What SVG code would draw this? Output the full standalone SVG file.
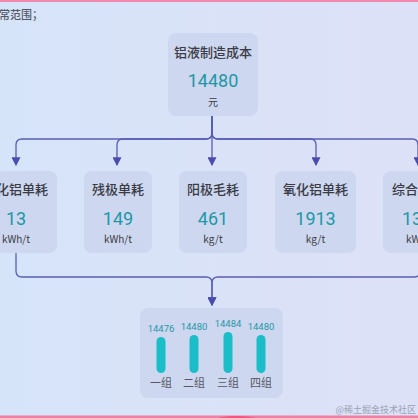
<svg xmlns="http://www.w3.org/2000/svg" width="418" height="418" viewBox="0 0 418 418">
<defs>
<linearGradient id="bg" x1="0" y1="0" x2="1" y2="0">
<stop offset="0" stop-color="#d6e4f9"/>
<stop offset="1" stop-color="#dde1f7"/>
</linearGradient>
<marker id="arrd" markerUnits="userSpaceOnUse" markerWidth="9" markerHeight="9" refX="7" refY="4" viewBox="0 0 8 8" orient="auto">
<path d="M0,0 L8,4 L0,8 Z" fill="#4b4cad"/>
</marker>
</defs>
<style>
.box{fill:#cdd7ef;}
.t{font-family:"Noto Sans CJK SC","Noto Sans",sans-serif;font-size:13px;font-weight:500;fill:#3a3b46;text-anchor:middle;}
.v{font-family:Roboto,"Liberation Sans",sans-serif;font-size:18px;font-weight:400;fill:#1e97a6;text-anchor:middle;}
.u{font-family:"Noto Sans CJK SC",Roboto,sans-serif;font-size:10px;fill:#3a3b46;text-anchor:middle;}
.n{font-family:Roboto,"Liberation Sans",sans-serif;font-size:9.5px;fill:#2597a8;text-anchor:middle;}
.g{font-family:"Noto Sans CJK SC",sans-serif;font-size:11px;fill:#555866;text-anchor:middle;}
.bar{fill:#1bbdc8;}
.e{fill:none;stroke:#5a5db4;stroke-width:1.3;}
</style>
<rect x="0" y="0" width="418" height="418" fill="url(#bg)"/>
<rect x="0" y="0" width="418" height="2" fill="#f089ad"/>
<rect x="0" y="415.5" width="418" height="2.5" fill="#ef7fa3"/>
<ellipse cx="237" cy="419" rx="20" ry="3" fill="#f2557e"/>
<text x="-1" y="19" font-family="'Noto Sans CJK SC',sans-serif" font-size="11" font-weight="500" fill="#555866">常范围；</text>
<text x="416" y="413" text-anchor="end" font-family="'Noto Sans CJK SC',sans-serif" font-size="9" fill="#9aa3b5">@稀土掘金技术社区</text>

<g id="connectors">
<path class="e" d="M212,116 V165" marker-end="url(#arrd)"/>
<path class="e" d="M212,116 V133 Q212,139 206,139 H22 Q16,139 16,145 V165" marker-end="url(#arrd)"/>
<path class="e" d="M212,116 V133 Q212,139 206,139 H123 Q117,139 117,145 V165" marker-end="url(#arrd)"/>
<path class="e" d="M212,116 V133 Q212,139 218,139 H310 Q316,139 316,145 V165" marker-end="url(#arrd)"/>
<path class="e" d="M212,116 V133 Q212,139 218,139 H412 Q418,139 418,145 V165" marker-end="url(#arrd)"/>
<path class="e" d="M16,253 V271 Q16,277 22,277 H206 Q212,277 212,283 V305" marker-end="url(#arrd)"/>
<path class="e" d="M420,253 V271 Q420,277 414,277 H218 Q212,277 212,283 V305" marker-end="url(#arrd)"/>
</g>

<g id="node-top">
<rect class="box" x="168" y="33" width="90" height="83" rx="8"/>
<text class="t" x="213" y="57">铝液制造成本</text>
<text class="v" x="213" y="87">14480</text>
<text class="u" x="213" y="106">元</text>
</g>

<g id="node-1">
<rect class="box" x="-25" y="171" width="82" height="82" rx="8"/>
<text class="t" x="48" y="194" style="text-anchor:end">化铝单耗</text>
<text class="v" x="16" y="225">13</text>
<text class="u" x="16" y="243">kWh/t</text>
</g>

<g id="node-2">
<rect class="box" x="84" y="171" width="68" height="82" rx="8"/>
<text class="t" x="118" y="194">残极单耗</text>
<text class="v" x="118" y="225">149</text>
<text class="u" x="118" y="243">kWh/t</text>
</g>

<g id="node-3">
<rect class="box" x="179" y="171" width="68" height="82" rx="8"/>
<text class="t" x="213" y="194">阳极毛耗</text>
<text class="v" x="213" y="225">461</text>
<text class="u" x="213" y="243">kg/t</text>
</g>

<g id="node-4">
<rect class="box" x="275" y="171" width="81" height="82" rx="8"/>
<text class="t" x="315.5" y="194">氧化铝单耗</text>
<text class="v" x="315.5" y="225">1913</text>
<text class="u" x="315.5" y="243">kg/t</text>
</g>

<g id="node-5">
<rect class="box" x="383" y="171" width="70" height="82" rx="8"/>
<text class="t" x="392" y="194" style="text-anchor:start">综合</text>
<text class="v" x="402" y="225" style="text-anchor:start">13</text>
<text class="u" x="406" y="243" style="text-anchor:start">kWh/t</text>
</g>

<g id="node-bottom">
<rect class="box" x="140" y="308" width="143" height="90" rx="8"/>
<text class="n" x="161" y="332">14476</text>
<text class="n" x="194" y="330">14480</text>
<text class="n" x="228" y="327">14484</text>
<text class="n" x="261" y="330">14480</text>
<rect class="bar" x="156.5" y="337" width="9" height="36" rx="4.5"/>
<rect class="bar" x="189.5" y="335" width="9" height="38" rx="4.5"/>
<rect class="bar" x="223.5" y="332" width="9" height="41" rx="4.5"/>
<rect class="bar" x="256.5" y="335" width="9" height="38" rx="4.5"/>
<text class="g" x="161" y="387">一组</text>
<text class="g" x="194" y="387">二组</text>
<text class="g" x="228" y="387">三组</text>
<text class="g" x="261" y="387">四组</text>
</g>
</svg>
